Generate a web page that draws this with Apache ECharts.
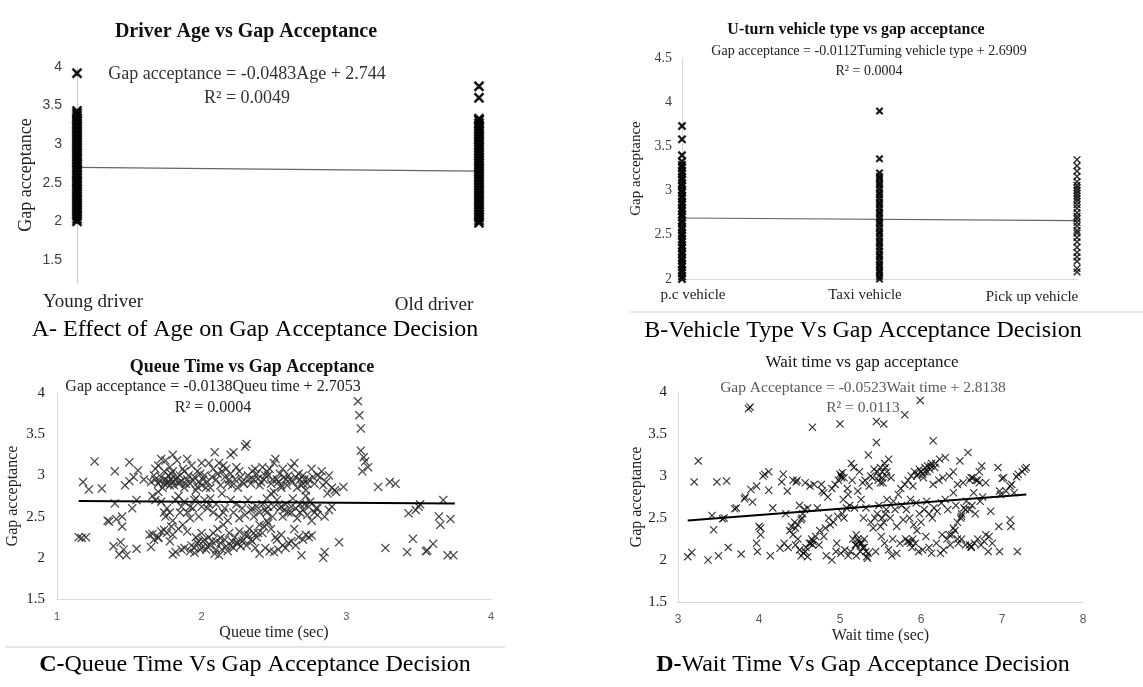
<!DOCTYPE html>
<html>
<head>
<meta charset="utf-8">
<script src="https://cdn.jsdelivr.net/npm/echarts@6/dist/echarts.min.js"></script>
<style>
  html, body { margin: 0; padding: 0; background: #fff; }
  #chart { width: 1143px; height: 687px; }
</style>
</head>
<body>
<div id="chart"></div>
<script>
// --- Panel A: driver age ---
var ageCategories = ['Young driver', 'Old driver'];
var youngGap = [2.0, 2.03, 2.07, 2.1, 2.14, 2.17, 2.21, 2.24, 2.28, 2.31, 2.35, 2.38, 2.42, 2.45, 2.49, 2.52,
  2.56, 2.6, 2.63, 2.67, 2.7, 2.74, 2.77, 2.81, 2.84, 2.88, 2.91, 2.95, 2.98, 3.02, 3.05, 3.09, 3.12,
  3.16, 3.19, 3.23, 3.26, 3.3, 3.33, 3.37, 3.4, 3.43, 3.92];
var oldGap = [1.98, 2.01, 2.05, 2.08, 2.12, 2.15, 2.19, 2.22, 2.26, 2.29, 2.33, 2.36, 2.4, 2.43, 2.47, 2.5,
  2.54, 2.57, 2.61, 2.64, 2.68, 2.71, 2.75, 2.78, 2.82, 2.85, 2.89, 2.92, 2.96, 2.99, 3.03, 3.06, 3.1,
  3.13, 3.17, 3.2, 3.24, 3.27, 3.31, 3.33, 3.6, 3.75];
var ageTrend = [[0, 2.7], [1, 2.65]];

// --- Panel B: vehicle type ---
var vehicleCategories = ['p.c vehicle', 'Taxi vehicle', 'Pick up vehicle'];
var pcGap = [2.0, 2.03, 2.07, 2.1, 2.14, 2.17, 2.21, 2.24, 2.28, 2.31, 2.35, 2.38, 2.42, 2.45, 2.49, 2.52,
  2.56, 2.59, 2.63, 2.66, 2.7, 2.73, 2.77, 2.8, 2.84, 2.87, 2.91, 2.94, 2.98, 3.01, 3.05, 3.08, 3.12,
  3.15, 3.19, 3.22, 3.26, 3.29, 3.33, 3.4, 3.58, 3.73];
var taxiGap = [2.0, 2.03, 2.07, 2.1, 2.14, 2.17, 2.21, 2.25, 2.28, 2.32, 2.36, 2.4, 2.43, 2.47, 2.51, 2.54,
  2.58, 2.62, 2.65, 2.69, 2.73, 2.76, 2.8, 2.84, 2.87, 2.91, 2.95, 2.98, 3.02, 3.06, 3.09, 3.13, 3.16,
  3.2, 3.36, 3.9];
var pickupGap = [2.08, 2.12, 2.2, 2.25, 2.3, 2.36, 2.42, 2.47, 2.52, 2.55, 2.6, 2.64, 2.68, 2.71, 2.75,
  2.8, 2.84, 2.88, 2.91, 2.94, 2.97, 3.0, 3.03, 3.06, 3.1, 3.16, 3.22, 3.28, 3.35];
var vehicleTrend = [[0, 2.69], [2, 2.66]];

// --- Panel C: queue time (sec, gap acceptance) ---
var queuePoints = [
  [1.15, 2.25], [1.17, 2.24], [1.2, 2.25], [1.18, 2.92], [1.22, 2.83], [1.26, 3.17], [1.31, 2.84],
  [1.35, 2.45], [1.36, 2.44], [1.39, 2.14], [1.4, 3.05], [1.4, 2.66], [1.41, 2.47], [1.43, 2.04],
  [1.44, 2.19], [1.45, 2.5], [1.45, 2.38], [1.46, 2.1], [1.47, 2.88], [1.48, 2.03], [1.5, 3.16],
  [1.5, 2.93], [1.52, 2.6], [1.53, 2.98], [1.55, 2.7], [1.55, 2.11], [1.56, 3.06], [1.6, 2.95],
  [1.65, 2.13], [1.66, 2.29], [1.68, 2.95], [1.7, 2.24],
  [1.65, 2.92], [1.67, 3.0], [1.68, 3.08], [1.7, 2.9], [1.7, 3.12], [1.72, 2.98], [1.72, 3.2],
  [1.73, 2.85], [1.74, 3.05], [1.75, 2.95], [1.75, 3.18], [1.76, 2.9], [1.77, 3.0], [1.78, 3.1],
  [1.78, 2.88], [1.79, 2.95], [1.8, 3.25], [1.8, 3.05], [1.8, 2.92],
  [1.66, 2.75], [1.68, 2.7], [1.7, 2.8], [1.72, 2.68], [1.74, 2.55], [1.75, 2.5], [1.76, 2.6],
  [1.78, 2.55], [1.8, 2.45], [1.64, 2.28], [1.67, 2.22], [1.7, 2.25], [1.72, 2.32], [1.74, 2.34],
  [1.76, 2.3], [1.78, 2.2], [1.79, 2.38], [1.8, 2.04], [1.8, 2.28],
  [1.82, 2.95], [1.83, 3.18], [1.84, 2.9], [1.85, 3.0], [1.86, 2.93], [1.88, 3.05], [1.88, 2.85],
  [1.9, 3.2], [1.9, 2.95], [1.92, 2.9], [1.93, 3.12], [1.95, 2.98], [1.96, 2.82], [1.97, 3.05],
  [1.98, 2.92], [2.0, 3.15], [2.0, 2.88],
  [1.82, 2.7], [1.84, 2.75], [1.86, 2.62], [1.88, 2.68], [1.9, 2.55], [1.92, 2.48], [1.94, 2.6],
  [1.96, 2.72], [1.98, 2.5], [2.0, 2.62],
  [1.82, 2.07], [1.84, 2.35], [1.86, 2.1], [1.87, 2.4], [1.88, 2.12], [1.9, 2.32], [1.92, 2.08],
  [1.93, 2.15], [1.95, 2.06], [1.96, 2.25], [1.98, 2.2], [2.0, 2.12], [2.0, 2.3],
  [2.02, 3.0], [2.04, 2.92], [2.05, 3.15], [2.06, 2.85], [2.08, 3.08], [2.09, 3.28], [2.1, 2.95],
  [2.12, 3.15], [2.13, 2.88], [2.14, 3.05], [2.15, 3.12], [2.16, 2.98], [2.18, 2.9], [2.2, 3.25],
  [2.2, 3.02],
  [2.02, 2.7], [2.04, 2.6], [2.06, 2.72], [2.08, 2.55], [2.1, 2.65], [2.12, 2.5], [2.14, 2.78],
  [2.16, 2.6], [2.18, 2.45], [2.2, 2.7],
  [2.02, 2.22], [2.03, 2.1], [2.05, 2.25], [2.06, 2.15], [2.08, 2.3], [2.09, 2.05], [2.1, 2.2],
  [2.11, 2.35], [2.12, 2.03], [2.13, 2.18], [2.14, 2.1], [2.15, 2.4], [2.16, 2.22], [2.18, 2.08],
  [2.19, 2.3], [2.2, 2.15],
  [2.22, 3.28], [2.23, 2.95], [2.24, 3.1], [2.25, 2.85], [2.26, 3.05], [2.28, 2.92], [2.3, 3.35],
  [2.31, 3.38], [2.32, 3.0], [2.34, 2.9], [2.35, 3.05], [2.36, 2.95], [2.38, 3.02], [2.4, 2.88],
  [2.22, 2.55], [2.24, 2.65], [2.26, 2.48], [2.28, 2.6], [2.3, 2.52], [2.32, 2.7], [2.34, 2.58],
  [2.36, 2.5], [2.38, 2.62], [2.4, 2.55],
  [2.22, 2.12], [2.23, 2.25], [2.25, 2.18], [2.26, 2.32], [2.27, 2.14], [2.28, 2.2], [2.3, 2.28],
  [2.31, 2.15], [2.33, 2.35], [2.34, 2.22], [2.36, 2.3], [2.37, 2.12], [2.38, 2.25], [2.4, 2.4],
  [2.4, 2.05],
  [2.42, 3.1], [2.43, 2.95], [2.45, 3.05], [2.46, 3.0], [2.48, 2.9], [2.5, 3.15], [2.51, 3.2],
  [2.52, 2.95], [2.54, 3.02], [2.55, 2.88], [2.56, 3.08], [2.58, 2.95], [2.6, 3.0],
  [2.42, 2.65], [2.44, 2.58], [2.45, 2.72], [2.46, 2.62], [2.48, 2.78], [2.5, 2.8], [2.52, 2.7],
  [2.54, 2.6], [2.55, 2.85], [2.56, 2.5], [2.58, 2.65], [2.6, 2.55],
  [2.42, 2.3], [2.44, 2.12], [2.45, 2.45], [2.47, 2.08], [2.48, 2.35], [2.5, 2.07], [2.51, 2.25],
  [2.52, 2.22], [2.53, 2.1], [2.55, 2.28], [2.56, 2.15], [2.58, 2.12], [2.6, 2.18],
  [2.62, 3.1], [2.63, 2.92], [2.64, 3.15], [2.65, 2.98], [2.66, 2.85], [2.68, 2.95], [2.7, 2.9],
  [2.7, 3.0], [2.72, 2.82], [2.74, 2.95], [2.76, 3.08], [2.78, 2.9], [2.8, 3.0],
  [2.62, 2.55], [2.63, 2.72], [2.65, 2.6], [2.66, 2.48], [2.68, 2.65], [2.7, 2.58], [2.72, 2.75],
  [2.74, 2.62], [2.75, 2.68], [2.76, 2.45], [2.78, 2.55], [2.8, 2.6],
  [2.62, 2.2], [2.64, 2.35], [2.65, 2.15], [2.67, 2.25], [2.69, 2.03], [2.7, 2.22], [2.72, 2.28],
  [2.74, 2.25], [2.76, 2.27],
  [2.82, 2.98], [2.83, 3.05], [2.84, 2.88], [2.85, 2.5], [2.86, 2.92], [2.87, 2.78], [2.88, 3.0],
  [2.88, 2.58], [2.9, 2.85], [2.9, 2.62], [2.92, 2.82], [2.93, 2.8], [2.84, 2.0], [2.85, 2.07],
  [2.8, 2.52],
  [1.71, 2.93], [1.74, 2.9], [1.77, 2.93], [1.79, 3.02], [1.81, 2.88], [1.83, 2.98], [1.85, 2.92],
  [1.87, 3.08], [1.89, 2.9], [1.91, 3.0], [1.94, 2.94], [1.97, 2.86], [1.99, 3.02], [2.01, 2.95],
  [2.03, 2.85], [2.07, 2.98], [2.11, 3.02], [2.17, 3.08], [2.19, 2.95], [2.21, 2.88], [2.27, 2.98],
  [2.29, 2.9], [2.33, 2.95], [2.37, 3.08], [2.39, 2.96], [2.41, 2.92], [2.44, 3.0], [2.47, 3.08],
  [2.49, 2.95], [2.53, 2.92], [2.57, 2.98], [2.59, 2.88], [2.61, 2.95], [2.67, 3.02], [2.69, 2.88],
  [2.71, 2.95], [2.73, 2.9], [2.77, 2.98],
  [1.95, 2.12], [1.97, 2.18], [1.99, 2.1], [2.01, 2.2], [2.04, 2.14], [2.07, 2.2], [2.1, 2.1],
  [2.13, 2.24], [2.17, 2.14], [2.21, 2.2], [2.24, 2.18], [2.29, 2.22], [2.32, 2.28], [2.35, 2.2],
  [2.39, 2.3], [2.43, 2.38], [2.46, 2.42], [2.49, 2.5],
  [2.35, 2.6], [2.45, 2.55], [2.5, 2.62], [2.55, 2.62], [2.57, 2.58], [2.62, 2.62], [2.68, 2.55],
  [2.71, 2.65], [2.73, 2.52], [2.79, 2.6], [1.85, 2.55], [1.92, 2.62], [1.95, 2.7], [2.05, 2.65],
  [2.15, 2.55],
  [2.95, 2.19], [2.98, 2.86], [3.08, 3.9], [3.09, 3.73], [3.1, 3.57], [3.1, 3.3], [3.12, 3.22],
  [3.13, 3.17], [3.15, 3.1], [3.11, 3.05], [3.22, 2.86], [3.27, 2.12], [3.3, 2.92], [3.34, 2.9],
  [3.42, 2.07], [3.43, 2.54], [3.46, 2.23], [3.48, 2.58], [3.5, 2.62], [3.51, 2.65], [3.55, 2.08],
  [3.56, 2.09], [3.6, 2.17], [3.64, 2.5], [3.65, 2.4], [3.67, 2.7], [3.7, 2.03], [3.72, 2.47],
  [3.74, 2.03]
];
var queueTrend = [[1.15, 2.69], [3.75, 2.66]];

// --- Panel D: wait time (sec, gap acceptance) ---
var waitPoints = [
  [3.12, 2.04], [3.17, 2.09], [3.2, 2.93], [3.25, 3.18], [3.37, 2.0], [3.42, 2.53], [3.44, 2.36],
  [3.48, 2.93], [3.5, 2.05], [3.55, 2.49], [3.57, 2.5], [3.6, 2.94], [3.62, 2.15], [3.7, 2.61],
  [3.72, 2.62], [3.78, 2.07], [3.82, 2.73], [3.83, 2.75], [3.87, 3.8], [3.89, 3.82], [3.9, 2.84],
  [3.92, 2.69], [3.97, 2.88], [3.97, 2.2], [3.98, 2.1], [4.0, 2.4], [4.02, 2.3], [4.02, 2.38],
  [4.05, 3.0], [4.07, 3.02], [4.12, 3.05], [4.12, 2.83], [4.14, 2.05], [4.17, 2.62], [4.26, 2.14],
  [4.28, 2.93], [4.3, 3.02], [4.31, 2.2], [4.33, 2.55], [4.35, 2.82], [4.36, 2.15], [4.38, 2.35],
  [4.4, 2.4], [4.42, 2.95], [4.44, 2.45], [4.46, 2.93], [4.48, 2.25],
  [4.42, 2.3], [4.45, 2.18], [4.47, 2.95], [4.5, 2.65], [4.5, 2.12], [4.52, 2.05], [4.53, 2.5],
  [4.54, 2.55], [4.55, 2.08], [4.56, 2.6], [4.57, 2.92], [4.58, 2.15], [4.6, 2.62], [4.6, 2.04],
  [4.62, 2.2], [4.63, 2.88], [4.65, 2.25], [4.66, 3.58], [4.67, 2.22], [4.68, 2.9], [4.7, 2.28],
  [4.72, 2.62], [4.74, 2.18], [4.75, 2.35], [4.77, 2.9], [4.78, 2.82], [4.8, 2.8], [4.8, 2.28],
  [4.82, 2.38],
  [4.83, 2.05], [4.85, 2.75], [4.86, 2.5], [4.88, 2.42], [4.9, 2.0], [4.9, 2.85], [4.92, 2.45],
  [4.94, 2.9], [4.95, 2.1], [4.96, 2.2], [4.97, 2.52], [4.98, 2.95], [5.0, 3.02], [5.0, 3.62],
  [5.01, 2.08], [5.02, 2.98], [5.03, 2.55], [5.04, 2.72], [5.05, 2.5], [5.06, 2.12], [5.08, 2.62],
  [5.09, 2.85], [5.1, 2.05], [5.1, 2.78], [5.12, 2.65], [5.13, 2.1], [5.14, 3.15], [5.15, 2.95],
  [5.16, 2.25], [5.17, 3.1], [5.18, 2.62], [5.19, 2.18], [5.2, 2.3], [5.2, 2.05],
  [5.22, 2.82], [5.23, 2.22], [5.24, 3.05], [5.25, 2.1], [5.26, 2.72], [5.27, 2.2], [5.28, 2.92],
  [5.29, 2.5], [5.3, 2.15], [5.31, 2.95], [5.32, 2.62], [5.33, 2.04], [5.34, 2.02], [5.35, 3.25],
  [5.36, 2.88], [5.38, 2.45], [5.38, 3.0], [5.4, 2.98], [5.41, 2.38], [5.42, 3.08], [5.43, 2.5],
  [5.44, 2.1], [5.45, 3.4], [5.45, 3.65], [5.46, 2.55], [5.47, 2.95], [5.48, 2.65], [5.5, 2.4],
  [5.5, 3.1], [5.51, 2.28], [5.52, 3.05], [5.53, 2.92], [5.54, 3.62], [5.55, 3.15], [5.55, 2.2],
  [5.56, 2.55], [5.57, 3.0], [5.58, 2.72], [5.6, 2.12], [5.6, 3.2],
  [5.62, 2.5], [5.63, 2.98], [5.64, 2.05], [5.65, 2.25], [5.66, 2.7], [5.68, 2.6], [5.7, 2.08],
  [5.7, 2.4], [5.72, 2.78], [5.74, 2.2], [5.75, 2.85], [5.76, 2.65], [5.78, 2.48], [5.8, 2.9],
  [5.8, 3.73], [5.81, 2.25], [5.82, 2.6], [5.84, 2.95], [5.85, 2.22], [5.86, 2.5], [5.87, 2.72],
  [5.88, 3.0], [5.89, 2.15], [5.9, 2.88], [5.91, 2.42], [5.92, 3.05], [5.93, 2.2], [5.94, 2.68],
  [5.95, 2.35], [5.96, 3.02], [5.97, 2.1], [5.98, 2.55], [5.99, 3.9], [6.0, 3.05], [6.0, 2.45],
  [6.02, 2.12], [6.03, 2.98], [6.04, 2.6], [6.05, 3.1], [6.06, 2.28], [6.07, 2.7], [6.08, 3.05],
  [6.1, 2.15], [6.1, 2.55], [6.12, 3.12], [6.13, 2.08], [6.14, 2.5], [6.15, 3.42], [6.15, 2.9],
  [6.16, 2.62], [6.18, 3.15], [6.19, 2.2], [6.2, 2.58], [6.22, 2.95], [6.23, 3.2], [6.24, 2.08],
  [6.25, 2.68], [6.26, 2.3], [6.27, 2.98], [6.28, 2.12], [6.3, 3.22], [6.3, 2.72], [6.32, 2.25],
  [6.33, 2.6], [6.35, 3.0], [6.36, 2.18], [6.38, 2.3], [6.4, 2.8], [6.4, 3.05],
  [6.42, 2.35], [6.43, 2.65], [6.45, 2.9], [6.46, 2.2], [6.48, 3.18], [6.49, 2.5], [6.5, 2.55],
  [6.5, 2.25], [6.52, 2.92], [6.53, 2.62], [6.55, 2.18], [6.56, 2.7], [6.58, 3.28], [6.6, 2.6],
  [6.6, 2.95], [6.62, 2.15], [6.63, 2.65], [6.64, 2.98], [6.65, 2.8], [6.66, 2.2], [6.67, 2.55],
  [6.7, 2.95], [6.7, 2.25], [6.72, 3.05], [6.73, 2.7], [6.74, 2.18], [6.75, 3.12], [6.76, 2.75],
  [6.78, 2.22], [6.8, 2.3], [6.8, 2.92],
  [6.83, 2.1], [6.84, 2.28], [6.86, 2.58], [6.88, 2.2], [6.95, 3.1], [6.96, 2.4], [6.97, 2.1],
  [6.97, 2.82], [6.98, 2.78], [7.0, 2.97], [7.02, 2.98], [7.05, 2.82], [7.1, 2.48], [7.1, 2.88],
  [7.11, 2.4], [7.12, 2.9], [7.15, 2.8], [7.18, 2.99], [7.19, 2.1], [7.2, 3.02], [7.25, 3.05],
  [7.28, 3.08], [7.3, 3.1],
  [5.01, 3.0], [5.03, 3.04], [5.05, 2.98], [5.48, 3.0], [5.52, 2.98], [5.56, 3.1], [5.58, 3.05],
  [5.5, 2.92], [5.46, 3.05], [5.95, 3.0], [5.98, 3.08], [6.02, 3.02], [6.05, 3.05], [6.08, 3.12],
  [6.11, 3.08], [6.13, 3.15], [6.17, 3.1], [5.2, 2.18], [5.22, 2.25], [5.25, 2.2], [5.28, 2.15],
  [5.3, 2.25], [5.32, 2.1], [5.35, 2.08], [4.57, 2.1], [4.64, 2.2], [4.66, 2.18], [5.52, 2.5],
  [5.54, 2.45], [5.57, 2.6], [6.35, 2.3], [6.4, 2.38], [6.45, 2.45], [6.5, 2.52], [6.55, 2.6],
  [6.45, 2.25], [6.6, 2.18], [6.62, 2.16], [6.62, 2.98], [6.68, 2.95], [6.72, 2.92], [4.45, 2.38],
  [4.48, 2.42], [4.52, 2.48], [5.83, 2.22], [5.87, 2.2], [5.9, 2.25]
];
var waitTrend = [[3.12, 2.47], [7.3, 2.78]];

var serif = "'Liberation Serif', 'DejaVu Serif', serif";
var sans = "'Liberation Sans', 'DejaVu Sans', sans-serif";
var cross = 'path://M0,1L1,0L5,4L9,0L10,1L6,5L10,9L9,10L5,6L1,10L0,9L4,5Z';
var axisGray = '#d9d9d9';

function txt(x, y, text, font, fill, rich) {
  return {
    type: 'text', x: x, y: y, silent: true,
    style: {
      text: text, font: font, fill: fill || '#000',
      align: 'center', verticalAlign: 'middle',
      textAlign: 'center', textVerticalAlign: 'middle',
      rich: rich
    }
  };
}

function column(vals, idx) {
  return vals.map(function(v) { return [idx, v]; });
}

// solid-looking stacked crosses for the category columns
var colStyle = { color: '#000', borderColor: '#000', borderWidth: 1.4 };

var chart = echarts.init(document.getElementById('chart'), null, { renderer: 'canvas' });
chart.setOption({
  animation: false,
  backgroundColor: '#fff',
  grid: [
    { left: 77, top: 67, width: 402, height: 216 },
    { left: 682, top: 58, width: 395, height: 221 },
    { left: 57, top: 393, width: 434, height: 206 },
    { left: 678, top: 392, width: 405, height: 210 }
  ],
  xAxis: [
    { gridIndex: 0, type: 'value', min: 0, max: 1, show: false },
    { gridIndex: 1, type: 'value', min: 0, max: 2, splitLine: { show: false },
      axisLine: { show: true, lineStyle: { color: axisGray } }, axisTick: { show: false },
      axisLabel: { show: false } },
    { gridIndex: 2, type: 'value', min: 1, max: 4, interval: 1, splitLine: { show: false },
      axisLine: { lineStyle: { color: axisGray } }, axisTick: { show: false },
      axisLabel: { color: '#595959', fontFamily: sans, fontSize: 11, margin: 12 },
      name: 'Queue time (sec)', nameLocation: 'middle', nameGap: 26,
      nameTextStyle: { fontFamily: serif, fontSize: 16, color: '#222' } },
    { gridIndex: 3, type: 'value', min: 3, max: 8, interval: 1, splitLine: { show: false },
      axisLine: { lineStyle: { color: axisGray } }, axisTick: { show: false },
      axisLabel: { color: '#595959', fontFamily: sans, fontSize: 12, margin: 12 },
      name: 'Wait time (sec)', nameLocation: 'middle', nameGap: 26,
      nameTextStyle: { fontFamily: serif, fontSize: 16, color: '#222' } }
  ],
  yAxis: [
    { gridIndex: 0, type: 'value', min: 1.2, max: 4, splitLine: { show: false },
      axisLine: { show: true, lineStyle: { color: '#c8c8c8' } }, axisTick: { show: false },
      axisLabel: { customValues: [1.5, 2, 2.5, 3, 3.5, 4], color: '#404040', fontFamily: sans,
        fontSize: 14, margin: 15 },
      name: 'Gap acceptance', nameLocation: 'middle', nameRotate: 90, nameGap: 42,
      nameTextStyle: { fontFamily: serif, fontSize: 18, color: '#222' } },
    { gridIndex: 1, type: 'value', min: 2, max: 4.5, interval: 0.5, splitLine: { show: false },
      axisLine: { show: true, lineStyle: { color: axisGray } }, axisTick: { show: false },
      axisLabel: { color: '#404040', fontFamily: serif, fontSize: 14, margin: 10 },
      name: 'Gap acceptance', nameLocation: 'middle', nameRotate: 90, nameGap: 38,
      nameTextStyle: { fontFamily: serif, fontSize: 15, color: '#222' } },
    { gridIndex: 2, type: 'value', min: 1.5, max: 4, interval: 0.5, splitLine: { show: false },
      axisLine: { show: true, lineStyle: { color: axisGray } }, axisTick: { show: false },
      axisLabel: { color: '#222', fontFamily: serif, fontSize: 15, margin: 12 },
      name: 'Gap acceptance', nameLocation: 'middle', nameRotate: 90, nameGap: 36,
      nameTextStyle: { fontFamily: serif, fontSize: 16, color: '#222' } },
    { gridIndex: 3, type: 'value', min: 1.5, max: 4, interval: 0.5, splitLine: { show: false },
      axisLine: { show: true, lineStyle: { color: axisGray } }, axisTick: { show: false },
      axisLabel: { color: '#222', fontFamily: serif, fontSize: 15, margin: 11 },
      name: 'Gap acceptance', nameLocation: 'middle', nameRotate: 90, nameGap: 32,
      nameTextStyle: { fontFamily: serif, fontSize: 16, color: '#222' } }
  ],
  series: [
    { type: 'line', xAxisIndex: 0, yAxisIndex: 0, data: ageTrend, symbol: 'none', z: 1,
      lineStyle: { color: '#666', width: 1.2 } },
    { type: 'scatter', xAxisIndex: 0, yAxisIndex: 0, data: column(youngGap, 0), symbol: cross,
      symbolSize: 9, itemStyle: colStyle },
    { type: 'scatter', xAxisIndex: 0, yAxisIndex: 0, data: column(oldGap, 1), symbol: cross,
      symbolSize: 9, itemStyle: colStyle },

    { type: 'line', xAxisIndex: 1, yAxisIndex: 1, data: vehicleTrend, symbol: 'none', z: 1,
      lineStyle: { color: '#666', width: 1.2 } },
    { type: 'scatter', xAxisIndex: 1, yAxisIndex: 1, data: column(pcGap, 0), symbol: cross,
      symbolSize: 7, itemStyle: colStyle },
    { type: 'scatter', xAxisIndex: 1, yAxisIndex: 1, data: column(taxiGap, 1), symbol: cross,
      symbolSize: 6, itemStyle: colStyle },
    { type: 'scatter', xAxisIndex: 1, yAxisIndex: 1, data: column(pickupGap, 2), symbol: cross,
      symbolSize: 7, itemStyle: { color: '#000', borderColor: '#000', borderWidth: 0.6 } },

    { type: 'scatter', xAxisIndex: 2, yAxisIndex: 2, data: queuePoints, symbol: cross,
      symbolSize: 9, itemStyle: { color: '#2a2a2a', opacity: 0.85 } },
    { type: 'line', xAxisIndex: 2, yAxisIndex: 2, data: queueTrend, symbol: 'none', z: 3,
      lineStyle: { color: '#000', width: 2 } },

    { type: 'scatter', xAxisIndex: 3, yAxisIndex: 3, data: waitPoints, symbol: cross,
      symbolSize: 8, itemStyle: { color: '#000' } },
    { type: 'line', xAxisIndex: 3, yAxisIndex: 3, data: waitTrend, symbol: 'none', z: 3,
      lineStyle: { color: '#000', width: 2 } }
  ],
  graphic: [
    // panel A
    txt(246, 32, 'Driver Age vs Gap Acceptance', 'bold 20px ' + serif, '#111'),
    txt(247, 74, 'Gap acceptance = -0.0483Age + 2.744', '18px ' + serif, '#333'),
    txt(247, 98, 'R² = 0.0049', '18px ' + serif, '#333'),
    txt(93, 302, ageCategories[0], '19px ' + serif, '#222'),
    txt(434, 305, ageCategories[1], '19px ' + serif, '#222'),
    txt(255, 330, 'A- Effect of Age on Gap Acceptance Decision', '24px ' + serif, '#000'),
    // panel B
    txt(856, 30, 'U-turn vehicle type vs gap acceptance', 'bold 16px ' + serif, '#111'),
    txt(869, 51, 'Gap acceptance = -0.0112Turning vehicle type + 2.6909', '14px ' + serif, '#222'),
    txt(869, 71, 'R² = 0.0004', '14px ' + serif, '#222'),
    txt(693, 295, vehicleCategories[0], '15px ' + serif, '#222'),
    txt(865, 295, vehicleCategories[1], '15px ' + serif, '#222'),
    txt(1032, 297, vehicleCategories[2], '15px ' + serif, '#222'),
    { type: 'line', silent: true, shape: { x1: 630, y1: 312, x2: 1143, y2: 312 },
      style: { stroke: '#d0d0d0', lineWidth: 1 } },
    txt(863, 331, 'B-Vehicle Type Vs Gap Acceptance Decision', '24px ' + serif, '#000'),
    // panel C
    txt(252, 367, 'Queue Time vs Gap Acceptance', 'bold 18px ' + serif, '#111'),
    txt(213, 387, 'Gap acceptance = -0.0138Queu time + 2.7053', '16px ' + serif, '#222'),
    txt(213, 408, 'R² = 0.0004', '16px ' + serif, '#222'),
    { type: 'line', silent: true, shape: { x1: 5, y1: 647, x2: 505, y2: 647 },
      style: { stroke: '#d0d0d0', lineWidth: 1 } },
    txt(255, 665, '{b|C-}Queue Time Vs Gap Acceptance Decision', '24px ' + serif, '#000',
      { b: { fontWeight: 'bold', fontSize: 24, fontFamily: serif } }),
    // panel D
    txt(862, 363, 'Wait time vs gap acceptance', '17px ' + serif, '#111'),
    txt(863, 388, 'Gap Acceptance = -0.0523Wait time + 2.8138', '15.5px ' + serif, '#595959'),
    txt(863, 408, 'R² = 0.0113', '15.5px ' + serif, '#595959'),
    txt(863, 665, '{b|D-}Wait Time Vs Gap Acceptance Decision', '24px ' + serif, '#000',
      { b: { fontWeight: 'bold', fontSize: 24, fontFamily: serif } })
  ]
});
window.addEventListener('resize', function() { chart.resize(); });
</script>
</body>
</html>
